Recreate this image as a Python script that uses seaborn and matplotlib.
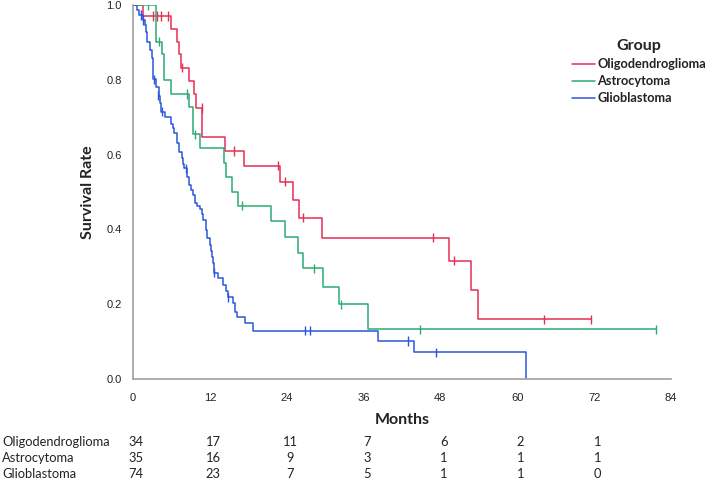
import numpy as np
import pandas as pd
import matplotlib
import matplotlib.pyplot as plt
import seaborn as sns

matplotlib.use('Agg')

groups = ['Oligodendroglioma', 'Astrocytoma', 'Glioblastoma']
colors = ['#E62E55', '#2EAB73', '#2B56D9']

# step curves (time in months, survival after the step)
oligo_t = [0, 1.6, 5.9, 6.8, 7.2, 7.5, 8.7, 9.6, 9.8, 10.8, 14.4, 17.3, 23.0, 25.0, 25.9, 29.5, 49.3, 52.8, 53.9, 71.5]
oligo_s = [1.0, 0.971, 0.936, 0.902, 0.869, 0.832, 0.798, 0.761, 0.725, 0.648, 0.610, 0.570, 0.528, 0.479, 0.431, 0.378, 0.316, 0.238, 0.160, 0.160]
oligo_ct = [3.2, 3.8, 4.4, 5.5, 7.7, 10.7, 15.7, 22.6, 23.75, 26.5, 46.9, 50.1, 64.1, 71.5]
oligo_cs = [0.971, 0.971, 0.971, 0.971, 0.832, 0.725, 0.610, 0.570, 0.528, 0.431, 0.378, 0.316, 0.160, 0.160]

astro_t = [0, 3.6, 4.5, 4.8, 6.0, 8.8, 9.3, 10.4, 14.2, 14.5, 15.4, 16.4, 21.5, 23.8, 25.7, 26.6, 29.6, 32.2, 36.7, 81.7]
astro_s = [1.0, 0.902, 0.870, 0.800, 0.762, 0.727, 0.654, 0.618, 0.577, 0.539, 0.501, 0.463, 0.422, 0.380, 0.338, 0.296, 0.247, 0.200, 0.133, 0.133]
astro_ct = [2.3, 4.1, 8.4, 9.7, 17.0, 28.3, 32.5, 44.8, 81.7]
astro_cs = [1.0, 0.902, 0.762, 0.654, 0.463, 0.296, 0.200, 0.133, 0.133]

glio_t = [0, 0.7, 1.0, 1.5, 1.9, 2.0, 2.2, 2.6, 2.9, 3.1, 3.2, 3.6, 4.0, 4.2, 4.4, 5.0, 5.9, 6.3, 6.4,
          6.8, 7.2, 7.6, 7.8, 8.0, 8.5, 8.8, 9.1, 9.3, 9.7, 10.0, 10.5, 10.8, 11.0, 11.4, 11.6, 12.0,
          12.2, 12.4, 12.55, 12.6, 13.3, 14.0, 14.5, 14.8, 15.6, 15.9, 16.3, 17.5, 18.7, 38.2, 43.8, 61.4]
glio_s = [1.0, 0.986, 0.973, 0.960, 0.946, 0.929, 0.902, 0.880, 0.857, 0.835, 0.801, 0.780, 0.758, 0.737, 0.715, 0.701, 0.683, 0.670, 0.657,
          0.630, 0.608, 0.590, 0.576, 0.563, 0.541, 0.519, 0.505, 0.492, 0.470, 0.463, 0.454, 0.440, 0.425, 0.398, 0.376, 0.358,
          0.342, 0.327, 0.309, 0.284, 0.269, 0.251, 0.235, 0.218, 0.202, 0.180, 0.167, 0.151, 0.129, 0.102, 0.071, 0.0]
glio_ct = [1.2, 1.6, 3.3, 3.95, 4.6, 8.3, 12.7, 14.9, 26.8, 27.7, 42.9, 47.3]
glio_cs = [0.973, 0.960, 0.801, 0.758, 0.715, 0.563, 0.284, 0.218, 0.129, 0.129, 0.102, 0.071]

# numbers at risk
risk_times = [0, 12, 24, 36, 48, 60, 72]
risk_oligo = [34, 17, 11, 7, 6, 2, 1]
risk_astro = [35, 16, 9, 3, 1, 1, 1]
risk_glio = [74, 23, 7, 5, 1, 1, 0]

curves = pd.concat([
    pd.DataFrame({'time': oligo_t, 'surv': oligo_s, 'group': groups[0]}),
    pd.DataFrame({'time': astro_t, 'surv': astro_s, 'group': groups[1]}),
    pd.DataFrame({'time': glio_t, 'surv': glio_s, 'group': groups[2]}),
], ignore_index=True)
cens = pd.concat([
    pd.DataFrame({'time': oligo_ct, 'surv': oligo_cs, 'group': groups[0]}),
    pd.DataFrame({'time': astro_ct, 'surv': astro_cs, 'group': groups[1]}),
    pd.DataFrame({'time': glio_ct, 'surv': glio_cs, 'group': groups[2]}),
], ignore_index=True)

sns.set_style('white')
plt.rcParams['font.family'] = ['Lato', 'DejaVu Sans']
pal = dict(zip(groups, colors))

fig = plt.figure(figsize=(7.14, 4.80), dpi=100)
ax = fig.add_axes([133 / 714, 1 - 379 / 480, (671 - 133) / 714, (379 - 5) / 480])

sns.lineplot(data=curves, x='time', y='surv', hue='group', hue_order=groups, palette=pal,
             drawstyle='steps-post', estimator=None, sort=True, linewidth=1.1, ax=ax)
sns.scatterplot(data=cens, x='time', y='surv', hue='group', hue_order=groups, palette=pal,
                marker='|', s=45, linewidth=1.0, legend=False, ax=ax)

ax.set_xlim(0, 84)
ax.set_ylim(0, 1.0)
ax.set_xticks(risk_times + [84])
ax.set_yticks([0, 0.2, 0.4, 0.6, 0.8, 1.0])
ax.set_yticklabels(['0.0', '0.2', '0.4', '0.6', '0.8', '1.0'])
ax.tick_params(axis='both', direction='out', length=4, width=1, color='#A0A0A0',
               labelsize=8, labelcolor='#222222', pad=4)
for lab in ax.get_xticklabels() + ax.get_yticklabels():
    lab.set_family(['Liberation Sans', 'DejaVu Sans'])
ax.tick_params(axis='x', pad=6)
for s in ['top', 'right']:
    ax.spines[s].set_visible(False)
for s in ['left', 'bottom']:
    ax.spines[s].set_color('#A0A0A0')
    ax.spines[s].set_linewidth(1.2)
ax.set_xlabel('')
ax.set_ylabel('')

fig.text(402 / 714, 1 - 420 / 480, 'Months', ha='center', va='center',
         fontsize=11.5, fontweight='bold', color='#222222')
fig.text(88 / 714, 1 - 192 / 480, 'Survival Rate', ha='center', va='center', rotation=90,
         fontsize=11.5, fontweight='bold', color='#222222')

handles, labels = ax.get_legend_handles_labels()
leg = ax.legend(handles, labels, title='Group', frameon=False, loc='upper left',
                bbox_to_anchor=(572 / 714, 1 - 39 / 480), bbox_transform=fig.transFigure,
                borderpad=0, borderaxespad=0, handlelength=1.8, handletextpad=0.2,
                labelspacing=0.4, fontsize=9.2, title_fontsize=11.5)
leg.get_title().set_fontweight('bold')
leg.get_title().set_color('#222222')
for t in leg.get_texts():
    t.set_fontweight('bold')
    t.set_color('#222222')

# numbers at risk table
row_y = [442, 458, 474]
risk_rows = [risk_oligo, risk_astro, risk_glio]
for name, vals, yy in zip(groups, risk_rows, row_y):
    fig.text(2 / 714, 1 - yy / 480, name, ha='left', va='center', fontsize=9.3, color='#222222')
    for t, v in zip(risk_times, vals):
        xpix = 133 + (t + 0.5) * (671 - 133) / 84
        fig.text(xpix / 714, 1 - yy / 480, str(v), ha='center', va='center', fontsize=9.3, color='#222222')

fig.savefig('out.png', dpi=100)
